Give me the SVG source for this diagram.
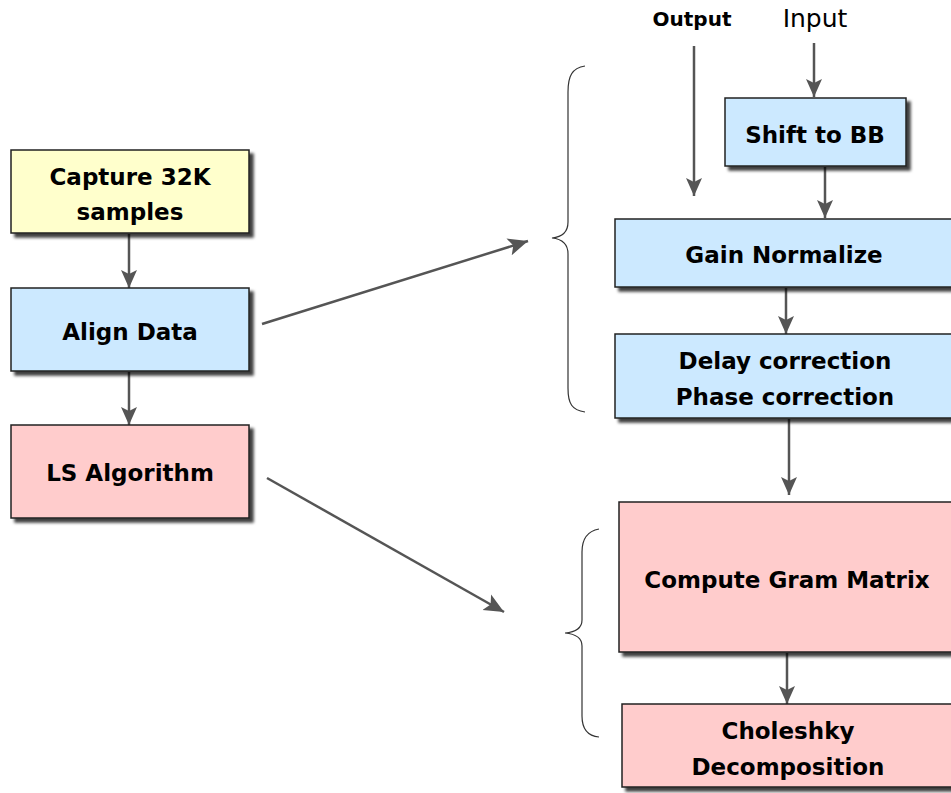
<svg xmlns="http://www.w3.org/2000/svg" width="951" height="793" viewBox="0 0 951 793">
<defs>
<filter id="sh" x="-10%" y="-10%" width="130%" height="130%">
<feDropShadow dx="4" dy="4" stdDeviation="1.5" flood-color="#000" flood-opacity="0.75"/>
</filter>
<marker id="ah" viewBox="0 0 20 20" refX="18" refY="10" markerWidth="20" markerHeight="20" markerUnits="userSpaceOnUse" orient="auto">
<path d="M0,2 L18,10 L0,18 L4,10 Z" fill="#555"/>
</marker>
<marker id="ah2" viewBox="0 0 20 20" refX="18" refY="10" markerWidth="22" markerHeight="22" markerUnits="userSpaceOnUse" orient="auto">
<path d="M0,2 L18,10 L0,18 L4,10 Z" fill="#555"/>
</marker>
</defs>
<style>
.box{stroke:#222;stroke-width:1.5;filter:url(#sh)}
.y{fill:#FFFFCC}.b{fill:#CCE9FF}.p{fill:#FFCCCC}
.t{font-family:"DejaVu Sans","Liberation Sans",sans-serif;font-weight:bold;font-size:23px;fill:#000;text-anchor:middle;dominant-baseline:central}
.c{stroke:#555;stroke-width:2.5;fill:none;marker-end:url(#ah)}
.d{stroke:#555;stroke-width:2.5;fill:none;marker-end:url(#ah2)}
.br{stroke:#333;stroke-width:1.2;fill:none}
</style>
<rect width="951" height="793" fill="#fff"/>
<g id="connectors">
<line class="c" x1="129" y1="234" x2="129" y2="288"/>
<line class="c" x1="129" y1="372" x2="129" y2="425"/>
<line class="d" x1="262" y1="324" x2="528" y2="241"/>
<line class="d" x1="267" y1="478" x2="504" y2="612"/>
<line class="c" x1="694" y1="46" x2="694" y2="196"/>
<line class="c" x1="814" y1="43" x2="814" y2="97"/>
<line class="c" x1="825" y1="167" x2="825" y2="218"/>
<line class="c" x1="786" y1="288" x2="786" y2="334"/>
<line class="c" x1="789" y1="419" x2="789" y2="495"/>
<line class="c" x1="787" y1="653" x2="787" y2="704"/>
</g>
<g id="brace-top">
<path class="br" d="M585,66 C572,68 568,76 568,92 L568,222 C568,232 562,237 552,238 C562,239 568,244 568,254 L568,388 C568,404 572,410 585,412"/>
</g>
<g id="brace-bottom">
<path class="br" d="M599,529 C588,531 582,538 582,552 L582,620 C582,628 576,632 565,633 C576,634 582,638 582,646 L582,716 C582,730 588,736 599,737"/>
</g>
<g id="node-capture">
<rect class="box y" x="11" y="150" width="238" height="83"/>
<text class="t" x="130" y="177">Capture 32K</text>
<text class="t" x="130" y="212">samples</text>
</g>
<g id="node-align">
<rect class="box b" x="11" y="288" width="238" height="83"/>
<text class="t" x="130" y="332">Align Data</text>
</g>
<g id="node-ls">
<rect class="box p" x="11" y="425" width="238" height="93"/>
<text class="t" x="130" y="473">LS Algorithm</text>
</g>
<g id="label-output">
<text x="692" y="19" style="font-family:'DejaVu Sans','Liberation Sans',sans-serif;font-weight:bold;font-size:20px;text-anchor:middle;dominant-baseline:central">Output</text>
</g>
<g id="label-input">
<text x="815" y="18" style="font-family:'DejaVu Sans','Liberation Sans',sans-serif;font-size:25px;text-anchor:middle;dominant-baseline:central">Input</text>
</g>
<g id="node-shift">
<rect class="box b" x="725" y="98" width="181" height="68"/>
<text class="t" x="815" y="135">Shift to BB</text>
</g>
<g id="node-gain">
<rect class="box b" x="615" y="219" width="345" height="68"/>
<text class="t" x="784" y="255">Gain Normalize</text>
</g>
<g id="node-delay">
<rect class="box b" x="615" y="334" width="345" height="84"/>
<text class="t" x="785" y="361">Delay correction</text>
<text class="t" x="785" y="397">Phase correction</text>
</g>
<g id="node-gram">
<rect class="box p" x="619" y="502" width="345" height="150"/>
<text class="t" x="787" y="580">Compute Gram Matrix</text>
</g>
<g id="node-chol">
<rect class="box p" x="622" y="704" width="345" height="83"/>
<text class="t" x="788" y="731">Choleshky</text>
<text class="t" x="788" y="767">Decomposition</text>
</g>
</svg>
